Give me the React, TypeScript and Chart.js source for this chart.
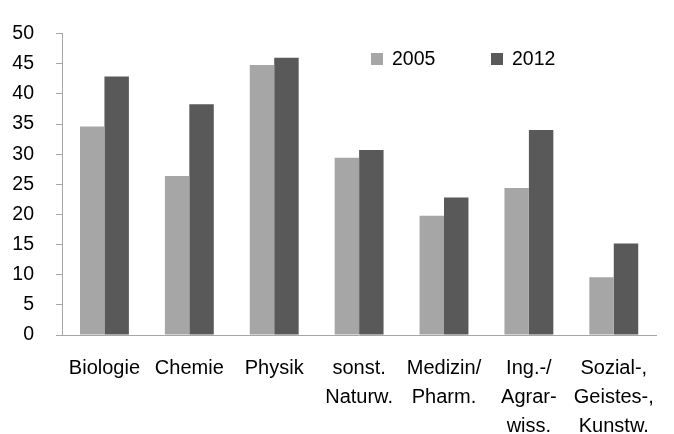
import React, { useEffect, useRef } from "react";
import { Chart, registerables } from "chart.js";

Chart.register(...registerables);

const categories: string[][] = [
  ["Biologie"],
  ["Chemie"],
  ["Physik"],
  ["sonst.", "Naturw."],
  ["Medizin/", "Pharm."],
  ["Ing.-/", "Agrar-", "wiss."],
  ["Sozial-,", "Geistes-,", "Kunstw."],
];
const series2005: number[] = [34.6, 26.4, 44.8, 29.4, 19.8, 24.4, 9.6];
const series2012: number[] = [42.9, 38.3, 46.0, 30.7, 22.8, 34.0, 15.2];
const yTicks: number[] = [0, 5, 10, 15, 20, 25, 30, 35, 40, 45, 50];

const FONT = "'Liberation Sans', Arial, sans-serif";

const legendPlugin = {
  id: "customLegend",
  afterDraw(chart: any) {
    const ctx = chart.ctx;
    const items = chart.data.datasets;
    const xs = [371, 491];
    const y = 59;
    ctx.save();
    ctx.font = `19.5px ${FONT}`;
    ctx.textBaseline = "middle";
    ctx.textAlign = "left";
    items.forEach((ds: any, i: number) => {
      ctx.fillStyle = ds.backgroundColor;
      ctx.fillRect(xs[i], y - 6, 12, 12);
      ctx.fillStyle = "#000";
      ctx.fillText(ds.label, xs[i] + 21, y + 1);
    });
    ctx.restore();
  },
};

export default function App() {
  const ref = useRef<HTMLCanvasElement | null>(null);
  useEffect(() => {
    document.body.style.margin = "0";
    if (!ref.current) return;
    const chart = new Chart(ref.current, {
      type: "bar",
      data: {
        labels: categories,
        datasets: [
          {
            label: "2005",
            data: series2005,
            backgroundColor: "#a6a6a6",
            categoryPercentage: 0.576,
            barPercentage: 1,
          },
          {
            label: "2012",
            data: series2012,
            backgroundColor: "#595959",
            categoryPercentage: 0.576,
            barPercentage: 1,
          },
        ],
      },
      options: {
        animation: false,
        responsive: false,
        maintainAspectRatio: false,
        layout: { padding: { top: 32, right: 17, left: 0, bottom: 0 } },
        plugins: {
          legend: { display: false },
          tooltip: { enabled: false },
        },
        scales: {
          x: {
            grid: { display: false, drawTicks: false },
            border: { display: true, color: "#a6a6a6", width: 1 },
            ticks: {
              color: "#000",
              font: { family: FONT, size: 20, lineHeight: 1.45 },
              padding: 19,
              maxRotation: 0,
              autoSkip: false,
            },
            afterFit(scale: any) {
              scale.height = 99;
            },
          },
          y: {
            min: 0,
            max: 50,
            afterBuildTicks(scale: any) {
              scale.ticks = yTicks.map((v) => ({ value: v }));
            },
            grid: {
              drawOnChartArea: false,
              drawTicks: true,
              tickLength: 6,
              color: "#a6a6a6",
            },
            border: { display: true, color: "#a6a6a6", width: 1 },
            ticks: {
              color: "#000",
              font: { family: FONT, size: 19.5 },
              padding: 22,
            },
            afterFit(scale: any) {
              scale.width = 62;
            },
          },
        },
      },
      plugins: [legendPlugin],
    });
    return () => chart.destroy();
  }, []);
  return <canvas ref={ref} width={674} height={434} style={{ display: "block" }} />;
}
